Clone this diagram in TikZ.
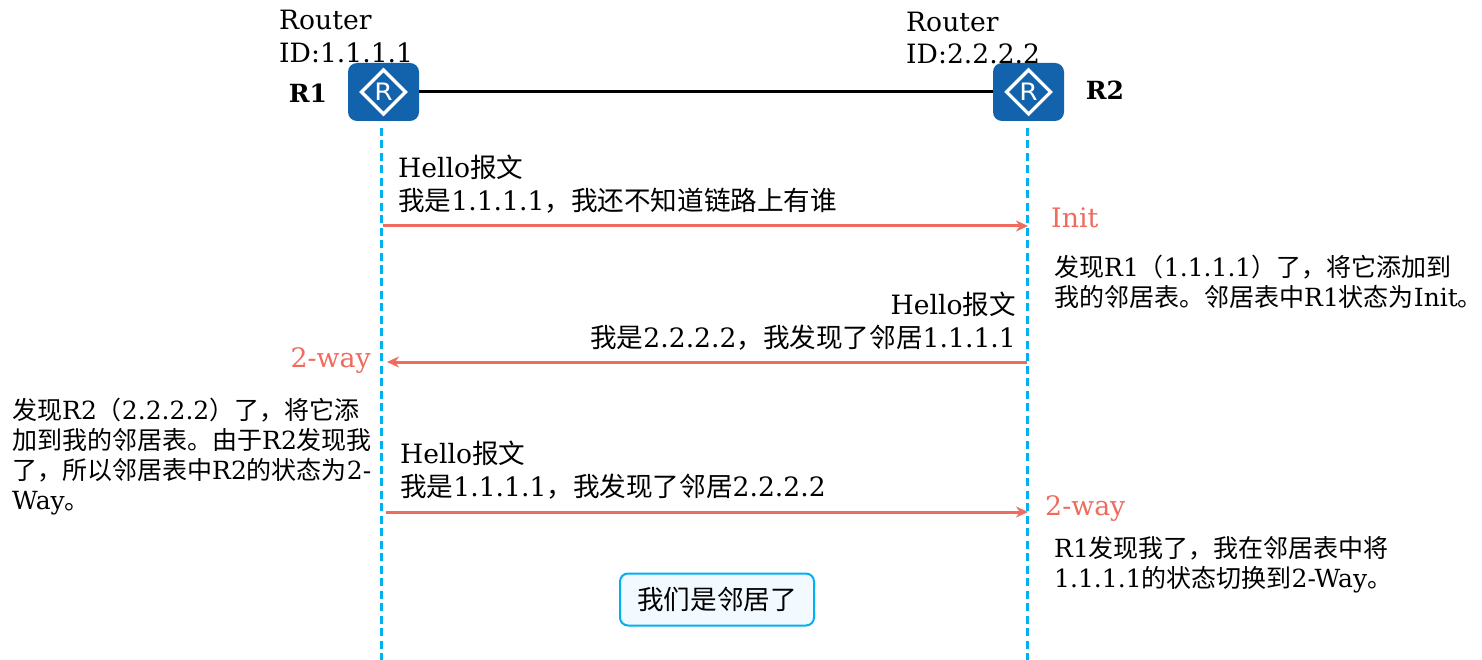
\documentclass[tikz,border=0pt]{standalone}
\usepackage{fontspec}
\setmainfont{DejaVu Serif}
\setsansfont{DejaVu Sans}
\newfontfamily\cjk{Noto Sans CJK SC}
\usetikzlibrary{positioning,calc,arrows.meta}
\definecolor{routerblue}{HTML}{1262AC}
\definecolor{lifeblue}{HTML}{00B0F0}
\definecolor{msgred}{HTML}{EE6B5D}
\definecolor{boxfill}{HTML}{F3FAFF}
\newcommand{\zh}[1]{{\cjk #1}}
\tikzset{
  router/.style={fill=routerblue,rounded corners=9pt,minimum width=71pt,minimum height=58pt,inner sep=0pt},
  lifeline/.style={draw=lifeblue,line width=3pt,dash pattern=on 8pt off 4.5pt},
  msg/.style={draw=msgred,line width=3pt,-{Stealth[length=12pt,width=11pt]}},
  lbl/.style={inner sep=0pt,align=left,anchor=west,font=\fontsize{26.6}{32.5}\selectfont},
  note/.style={inner sep=0pt,align=left,anchor=west,font=\fontsize{25}{30}\selectfont},
  statelbl/.style={inner sep=0pt,anchor=west,text=msgred,font=\fontsize{26.8}{30}\selectfont},
  rname/.style={inner sep=0pt,font=\fontsize{25}{30}\selectfont\bfseries},
}
\begin{document}
\begin{tikzpicture}[x=1pt,y=-1pt]
\useasboundingbox (0,0) rectangle (1482,660);
% routers
\node[router] (R1) at (383.5,92) {};
\node[router] (R2) at (1028.5,92) {};
\foreach \r in {R1,R2} {
  \draw[white,line width=3.2pt] ($(\r)+(-22,0)$) -- ($(\r)+(0,-22)$) -- ($(\r)+(22,0)$) -- ($(\r)+(0,22)$) -- cycle;
  \node[white,inner sep=0pt,xscale=1.1,font=\fontsize{24}{28}\sffamily] at (\r) {R};
}
\draw[line width=3pt] (R1) -- (R2);
\node[rname] (n1) at (308,93) {R1};
\node[rname] (n2) at (1105,90) {R2};
\node[lbl] (id1) at (279,36.5) {Router\\ID:1.1.1.1};
\node[lbl] (id2) at (906,38) {Router\\ID:2.2.2.2};
% lifelines
\coordinate (t1) at (381,128);
\coordinate (b1) at (381,660);
\coordinate (t2) at (1027,128);
\coordinate (b2) at (1027,660);
\draw[lifeline] (t1) -- (b1);
\draw[lifeline] (t2) -- (b2);
% messages
\coordinate (a1) at (383,226);
\coordinate (a2) at (1028,226);
\coordinate (b3) at (1027,362);
\coordinate (b4) at (387,362);
\coordinate (c1) at (386,512);
\coordinate (c2) at (1028,512);
\draw[msg] (a1) -- (a2);
\draw[msg] (b3) -- (b4);
\draw[msg] (c1) -- (c2);
\node[lbl] (m1) at (398,184) {Hello\zh{报文}\\\zh{我是}1.1.1.1\zh{，我还不知道链路上有谁}};
\node[lbl,align=right,anchor=east] (m2) at (1016,321) {Hello\zh{报文}\\\zh{我是}2.2.2.2\zh{，我发现了邻居}1.1.1.1};
\node[lbl] (m3) at (400,470) {Hello\zh{报文}\\\zh{我是}1.1.1.1\zh{，我发现了邻居}2.2.2.2};
% states
\node[statelbl] (s1) at (1051,218) {Init};
\node[statelbl,anchor=east] (s2) at (371,360.5) {2-way};
\node[statelbl] (s3) at (1045,508.5) {2-way};
% notes
\node[note] (d1) at (1054,282) {\zh{发现}R1\zh{（}1.1.1.1\zh{）了，将它添加到}\\\zh{我的邻居表。邻居表中}R1\zh{状态为}Init\zh{。}};
\node[note] (d2) at (12,457) {\zh{发现}R2\zh{（}2.2.2.2\zh{）了，将它添}\\\zh{加到我的邻居表。由于}R2\zh{发现我}\\\zh{了，所以邻居表中}R2\zh{的状态为}2-\\Way\zh{。}};
\node[note] (d3) at (1054,565) {R1\zh{发现我了，我在邻居表中将}\\1.1.1.1\zh{的状态切换到}2-Way\zh{。}};
% result box
\node[draw=lifeblue,line width=2pt,fill=boxfill,rounded corners=8pt,minimum width=194pt,minimum height=52pt,inner sep=0pt,font=\fontsize{26.6}{30}\selectfont\cjk] (done) at (717,599.5) {我们是邻居了};
\end{tikzpicture}
\end{document}
